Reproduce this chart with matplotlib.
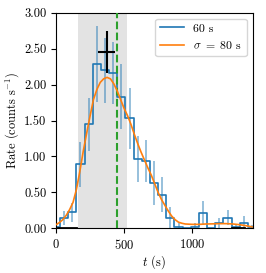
import matplotlib
matplotlib.use("Agg")
import matplotlib.pyplot as plt
from matplotlib.ticker import FormatStrFormatter

plt.rcParams['font.family'] = 'serif'
plt.rcParams['font.serif'] = ['cmr10']
plt.rcParams['mathtext.fontset'] = 'cm'
plt.rcParams['axes.formatter.use_mathtext'] = True
plt.rcParams['font.size'] = 9

# 60 s light curve (bin centres)
t_bins = [0, 60, 120, 180, 240, 300, 360, 420, 480, 540, 600, 660, 720,
          780, 840, 900, 960, 1020, 1080, 1140, 1200, 1260, 1320, 1380, 1440]
rate = [0.02, 0.14, 0.22, 0.89, 1.45, 2.29, 2.20, 2.16, 1.83, 1.53, 0.97, 0.94, 0.63,
        0.47, 0.14, 0.02, 0.0, 0.02, 0.21, 0.0, 0.08, 0.15, 0.02, 0.08, 0.02]
rate_err = [0.03, 0.10, 0.13, 0.31, 0.37, 0.53, 0.45, 0.43, 0.45, 0.42, 0.32, 0.29, 0.30,
            0.25, 0.16, 0.05, 0.0, 0.05, 0.17, 0.0, 0.07, 0.11, 0.04, 0.09, 0.03]

# smoothed curve, sigma = 80 s
t_smooth = [0, 25, 50, 75, 100, 125, 150, 175, 200, 225, 250, 275, 300, 325, 350, 375,
            400, 425, 450, 475, 500, 525, 550, 575, 600, 625, 650, 675, 700, 725, 750,
            775, 800, 825, 850, 875, 900, 925, 950, 1000, 1050, 1100, 1150, 1200, 1250,
            1300, 1350, 1400, 1440]
rate_smooth = [0.05, 0.08, 0.12, 0.18, 0.26, 0.36, 0.54, 0.79, 1.07, 1.32, 1.56, 1.79,
               1.93, 2.03, 2.08, 2.10, 2.08, 2.01, 1.91, 1.79, 1.67, 1.57, 1.45, 1.31,
               1.18, 1.06, 0.95, 0.84, 0.74, 0.62, 0.50, 0.40, 0.32, 0.24, 0.17, 0.12,
               0.085, 0.07, 0.06, 0.055, 0.055, 0.06, 0.062, 0.065, 0.065, 0.06, 0.05,
               0.035, 0.02]

# peak estimate
peak_t, peak_terr = 373, 61
peak_rate, peak_rerr = 2.45, 0.29

bkg_intervals = [(15, 150), (1290, 1380)]
span = (160, 520)
t_mark = 450

fig = plt.figure(figsize=(2.66, 2.73), dpi=100)
ax = fig.add_axes([0.2105, 0.1637, 0.7395, 0.7898])

ax.axvspan(span[0], span[1], color='#e3e3e3', lw=0, zorder=0)
ax.axvline(t_mark, color='C2', ls='--', lw=1.5, zorder=3)

ax.step(t_bins, rate, where='mid', color='C0', lw=1.2, label='60 s', zorder=2)
ax.errorbar(t_bins, rate, yerr=rate_err, fmt='none', ecolor='C0', alpha=0.5, lw=1.3, zorder=1)
ax.plot(t_smooth, rate_smooth, color='C1', lw=1.2, label=r'$\sigma\ =\ 80$ s', zorder=4)

ax.errorbar([peak_t], [peak_rate], xerr=[peak_terr], yerr=[peak_rerr], fmt='none',
            ecolor='k', lw=1.5, zorder=5)
for a, b in bkg_intervals:
    ax.plot([a, b], [0, 0], color='k', lw=2, zorder=5)

ax.set_xlim(0, 1445)
ax.set_ylim(0, 3.0)
ax.set_xticks([0, 500, 1000])
ax.set_yticks([0, 0.5, 1.0, 1.5, 2.0, 2.5, 3.0])
ax.yaxis.set_major_formatter(FormatStrFormatter('%.2f'))
ax.set_xlabel(r'$t$ (s)', labelpad=1)
ax.set_ylabel(r'Rate (counts s$^{-1}$)', labelpad=2)
ax.legend(loc='upper right', fontsize=8.5)

fig.savefig('out.png', dpi=100)
